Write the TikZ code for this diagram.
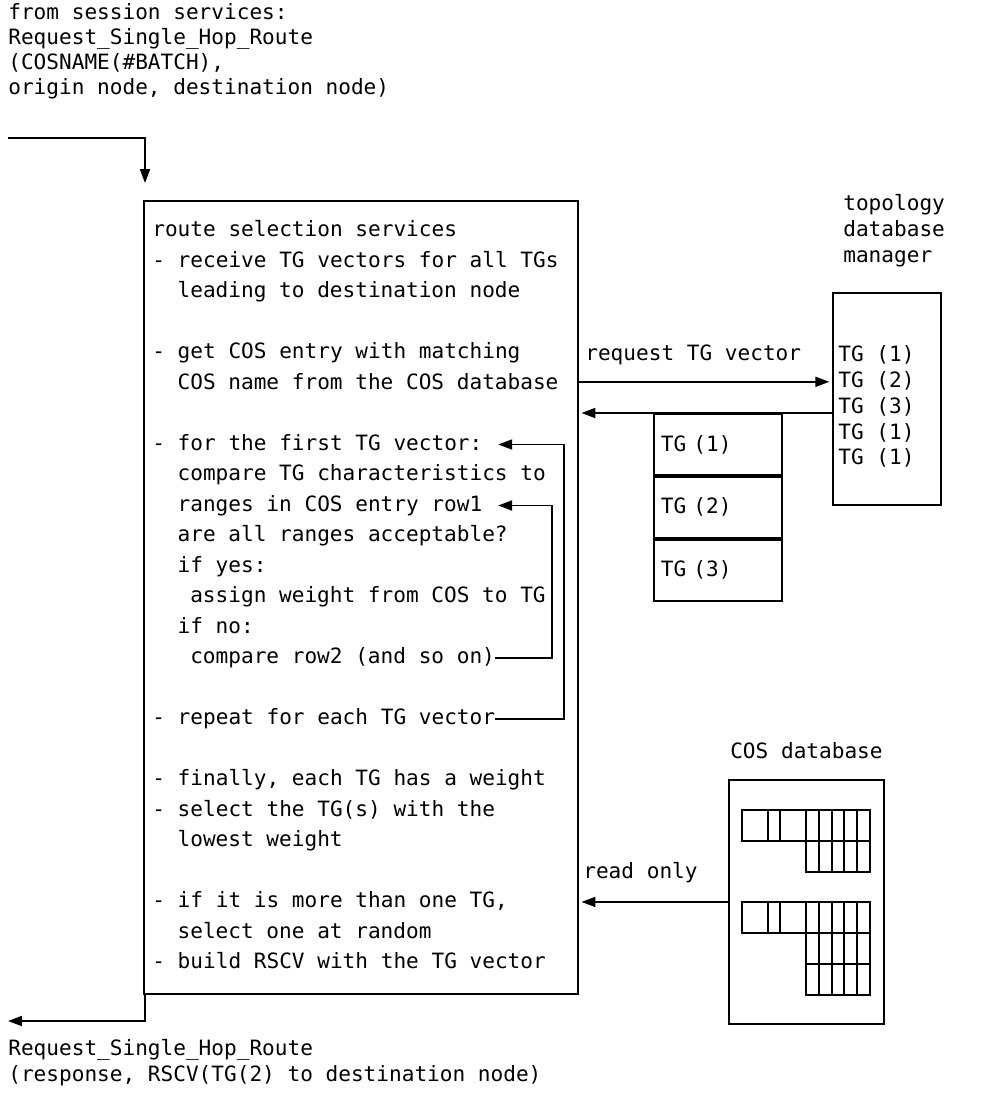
\documentclass[tikz,border=0pt]{standalone}
\usepackage{fontspec}
\setmainfont{DejaVu Sans Mono}
\usetikzlibrary{arrows.meta, positioning}

\begin{document}
\begin{tikzpicture}[x=0.02cm, y=-0.02cm,
  txt/.style={inner sep=0pt, font=\fontsize{12}{14.8}\selectfont},
  ln/.style={txt, anchor=west, text height=9pt, text depth=2.6pt},
  frame/.style={draw, line width=1.1pt, inner sep=0pt},
  cell/.style={line width=1.1pt},
  arr/.style={-{Triangle[length=2.8mm, width=2mm]}, line width=1.1pt}]

  \useasboundingbox (0,0) rectangle (989,1102);

  % Incoming request
  \node[txt, anchor=north west, align=left, font=\fontsize{12}{14.2}\selectfont] (reqin) at (8,3)
    {from session services:\\Request\_Single\_Hop\_Route\\(COSNAME(\#BATCH),\\origin node, destination node)};
  \coordinate (inflow) at (8,138);
  \coordinate (intip) at (145,183);
  \draw[arr] (inflow) -| (intip);

  % Route selection services
  \node[frame, anchor=north west, minimum width=8.68cm, minimum height=15.86cm] (rss) at (143,200) {};
  \foreach \n/\ind/\words in {1/0/{route selection services},
      2/0/{- receive TG vectors for all TGs}, 3/2/{leading to destination node},
      5/0/{- get COS entry with matching}, 6/2/{COS name from the COS database},
      8/0/{- for the first TG vector:}, 9/2/{compare TG characteristics to},
      10/2/{ranges in COS entry row1}, 11/2/{are all ranges acceptable?},
      12/2/{if yes:}, 13/3/{assign weight from COS to TG}, 14/2/{if no:},
      15/3/{compare row2 (and so on)}, 17/0/{- repeat for each TG vector},
      19/0/{- finally, each TG has a weight}, 20/0/{- select the TG(s) with the},
      21/2/{lowest weight}, 23/0/{- if it is more than one TG,},
      24/2/{select one at random}, 25/0/{- build RSCV with the TG vector}}{
    \node[ln] (l\n) at ({152+\ind*12.65},{231+(\n-1)*30.5}) {\words};
  }

  % Loops
  \coordinate (innerloop) at (552,0);
  \coordinate (outerloop) at (564,0);
  \draw[arr] (l15.east) -- (l15.east -| innerloop) |- ([xshift=0.31cm]l10.east);
  \draw[arr] (l17.east) -- (l17.east -| outerloop) |- ([xshift=0.31cm]l8.east);

  % Topology database manager
  \node[txt, anchor=north west, align=left] (tdmlbl) at (843,194) {topology\\database\\manager};
  \node[frame, anchor=north west, minimum width=2.16cm, minimum height=4.24cm] (tdm) at (832,292) {};
  \foreach \i/\k in {1/1,2/2,3/3,4/1,5/1}{
    \node[ln] (t\i) at (838,{356+(\i-1)*25.8}) {TG (\k)};
  }

  % TG vectors
  \node[frame, anchor=north west, minimum width=2.56cm, minimum height=1.22cm,
    text width=2.28cm, align=left, font=\fontsize{12}{14.8}\selectfont] (tgv1) at (653,413) {TG (1)};
  \node[frame, below=0cm of tgv1, minimum width=2.56cm, minimum height=1.22cm,
    text width=2.28cm, align=left, font=\fontsize{12}{14.8}\selectfont] (tgv2) {TG (2)};
  \node[frame, below=0cm of tgv2, minimum width=2.56cm, minimum height=1.22cm,
    text width=2.28cm, align=left, font=\fontsize{12}{14.8}\selectfont] (tgv3) {TG (3)};

  \node[ln] (reqlbl) at (585,355) {request TG vector};
  \draw[arr, shorten >=1.5pt] (rss.east |- t2) -- (tdm.west |- t2);
  \draw[arr, shorten >=1.5pt] (tdm.west |- tgv1.north) -- (rss.east |- tgv1.north);

  % COS database
  \node[frame, anchor=north west, minimum width=3.1cm, minimum height=4.88cm] (cosdb) at (728,779) {};
  \node[txt, above=0.4cm of cosdb] (coslbl) {COS database};
  \foreach \gy/\nr in {810/1, 902/2}{
    \draw[cell] (742,\gy) rectangle (806,\gy+31);
    \draw[cell] (768,\gy) -- (768,\gy+31) (780,\gy) -- (780,\gy+31);
    \draw[cell] (806,\gy) rectangle (870,{\gy+31*(\nr+1)});
    \foreach \cx in {818.8,831.6,844.4,857.2}
      \draw[cell] (\cx,\gy) -- (\cx,{\gy+31*(\nr+1)});
    \foreach \r in {1,...,\nr}
      \draw[cell] (806,{\gy+31*\r}) -- (870,{\gy+31*\r});
  }
  \node[ln] (readlbl) at (583,873) {read only};
  \draw[arr, shorten >=1.5pt] (cosdb.west) -- (rss.east |- cosdb.west);

  % Response
  \coordinate (outtip) at (8,1021);
  \draw[arr] (rss.south west -| intip) |- (outtip);
  \node[txt, anchor=north west, align=left, font=\fontsize{12}{15}\selectfont] (resp) at (8,1039)
    {Request\_Single\_Hop\_Route\\(response, RSCV(TG(2) to destination node)};
\end{tikzpicture}
\end{document}
